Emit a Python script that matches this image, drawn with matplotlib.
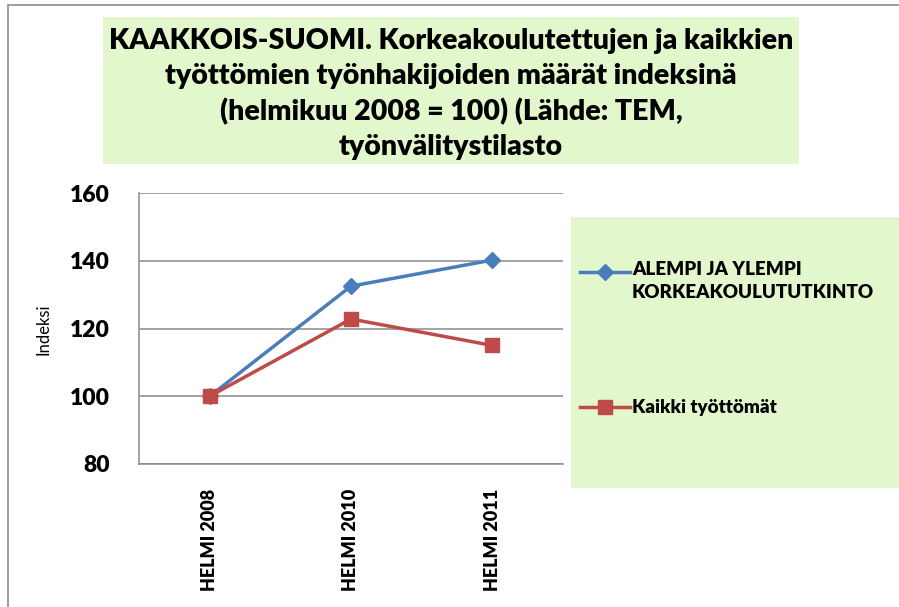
import matplotlib
matplotlib.use("Agg")
import matplotlib.pyplot as plt
from matplotlib.patches import Rectangle
from matplotlib.lines import Line2D

categories = ["HELMI 2008", "HELMI 2010", "HELMI 2011"]
series_names = ["ALEMPI JA YLEMPI\nKORKEAKOULUTUTKINTO", "Kaikki työttömät"]
higher_ed = [100, 132.5, 140.2]
all_unemployed = [100, 122.8, 115]
yticks = [80, 100, 120, 140, 160]
title = ("KAAKKOIS-SUOMI. Korkeakoulutettujen ja kaikkien\n"
         "työttömien työnhakijoiden määrät indeksinä\n"
         "(helmikuu 2008 = 100) (Lähde: TEM,\n"
         "työnvälitystilasto")
ylabel = "Indeksi"

W, H = 899, 607
FONT = ["Lato", "DejaVu Sans"]
colors = ["#4a7ebb", "#be4b48"]
markers = ["D", "s"]
msizes = [8, 9.5]
green = "#e2f7cc"

fig = plt.figure(figsize=(W / 100, H / 100), dpi=100)
fig.patch.set_facecolor("white")

def fx(px):
    return px / W

def fy(py):
    return 1 - py / H

# outer frame lines (left and top visible)
fig.add_artist(Rectangle((fx(8), fy(640)), fx(960), (640 - 5) / H,
                         transform=fig.transFigure, fill=False,
                         edgecolor="#8c8c8c", linewidth=1.2, zorder=0))

# title box
fig.add_artist(Rectangle((fx(103), fy(164)), fx(799 - 103), (164 - 17) / H,
                         transform=fig.transFigure, facecolor=green,
                         edgecolor="none", zorder=1))
fig.text(fx(451), fy(94), title, ha="center", va="center", fontsize=20.5,
         fontweight="heavy", family=FONT, linespacing=1.41, zorder=2)

# legend box
fig.add_artist(Rectangle((fx(571), fy(488)), fx(340), (488 - 217) / H,
                         transform=fig.transFigure, facecolor=green,
                         edgecolor="none", zorder=1))

ax = fig.add_axes([fx(139), fy(464), fx(563 - 139), (464 - 193) / H])
x = list(range(len(categories)))
for vals, c, m, ms in zip([higher_ed, all_unemployed], colors, markers, msizes):
    ax.plot(x, vals, color=c, marker=m, markersize=ms, linewidth=2.5,
            markeredgecolor=c, zorder=3)
ax.set_xlim(-0.5, len(categories) - 0.5)
ax.set_ylim(80, 160)
ax.set_yticks(yticks)
ax.set_yticklabels([str(v) for v in yticks], fontsize=16.5, fontweight="heavy",
                   family=FONT)
ax.set_xticks(x)
ax.set_xticklabels(categories, rotation=90, fontsize=13, fontweight="heavy",
                   family=FONT, va="top")
ax.tick_params(axis="both", length=0)
ax.tick_params(axis="y", pad=21)
ax.tick_params(axis="x", pad=18)
ax.yaxis.grid(True, color="#8a8a8a", linewidth=1.1)
ax.set_axisbelow(True)
for s in ["top", "right"]:
    ax.spines[s].set_visible(False)
for s in ["left", "bottom"]:
    ax.spines[s].set_color("#8a8a8a")
    ax.spines[s].set_linewidth(1.1)
ax.set_facecolor("white")
fig.text(fx(43), fy(329), ylabel, rotation=90, ha="center", va="center",
         fontsize=12, family=FONT)

# legend entries (manual, handle aligned with first text line)
leg_y = [272, 407]
for name, c, m, ms, ly in zip(series_names, colors, markers, msizes, leg_y):
    fig.add_artist(Line2D([fx(580), fx(630)], [fy(ly), fy(ly)], color=c,
                          linewidth=2.5, transform=fig.transFigure, zorder=3))
    fig.add_artist(Line2D([fx(605)], [fy(ly)], color=c, marker=m,
                          markersize=ms, transform=fig.transFigure, zorder=4))
    if "\n" in name:
        fig.text(fx(632), fy(ly - 11), name, ha="left", va="top",
                 fontsize=13.5, fontweight="heavy", family=FONT, linespacing=1.4,
                 zorder=4)
    else:
        fig.text(fx(632), fy(ly), name, ha="left", va="center",
                 fontsize=13.5, fontweight="heavy", family=FONT, zorder=4)

fig.savefig("out.png", dpi=100)
